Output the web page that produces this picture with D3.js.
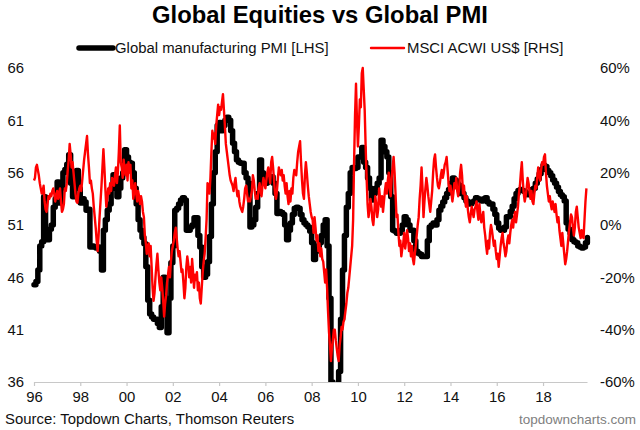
<!DOCTYPE html>
<html>
<head>
<meta charset="utf-8">
<script src="https://cdn.jsdelivr.net/npm/d3@7"></script>
<style>
  html, body { margin: 0; padding: 0; background: #fff; }
  text { font-family: "Liberation Sans", Arial, sans-serif; }
</style>
</head>
<body>
<svg id="chart" width="640" height="430"></svg>
<script>
const startYear = 1996;
const xTickYears = [1996, 1998, 2000, 2002, 2004, 2006, 2008, 2010, 2012, 2014, 2016, 2018];
const xTickLabels = ["96", "98", "00", "02", "04", "06", "08", "10", "12", "14", "16", "18"];
const leftTicks = [36, 41, 46, 51, 56, 61, 66];
const rightTicks = [-60, -40, -20, 0, 20, 40, 60];

// monthly, from Jan 96
const pmiValues = [
  45.3, 45.6, 46.7, 49.0, 49.4, 53.7, 50.0, 49.6, 50.6, 51.0, 52.7, 53.5,
  55.1, 53.1, 54.5, 56.0, 56.3, 56.8, 57.7, 55.0, 53.7, 55.5, 56.2, 54.5,
  53.1, 53.5, 53.2, 52.4, 52.5, 48.9, 49.0, 48.9, 48.8, 48.9, 48.5, 46.7,
  50.5, 51.5, 52.4, 53.0, 54.5, 55.8, 55.5, 53.7, 54.5, 55.5, 56.0, 58.2,
  57.5, 57.0, 56.9, 56.0, 54.5, 53.0, 51.5, 50.5, 49.8, 49.2, 47.0, 43.8,
  42.5, 42.2, 42.0, 42.0, 41.6, 41.2, 43.2, 46.0, 43.0, 40.7, 44.0, 47.4,
  49.0, 52.4, 52.6, 53.0, 53.4, 53.6, 53.4, 50.5, 50.5, 50.8, 51.0, 51.7,
  51.7, 50.0, 48.9, 47.0, 46.0, 46.3, 47.5, 49.9, 53.0, 56.0, 58.0, 60.5,
  60.8, 60.0, 60.5, 61.0, 61.3, 61.0, 60.0, 58.8, 58.0, 57.2, 57.0, 56.9,
  56.9, 56.0, 55.5, 55.0, 50.8, 51.0, 51.5, 52.7, 54.0, 57.2, 56.0, 55.5,
  55.0, 55.2, 55.4, 55.6, 55.0, 54.0, 52.1, 52.3, 52.2, 52.0, 51.0, 49.6,
  50.5, 51.2, 52.0, 52.6, 52.7, 52.6, 52.0, 51.5, 51.2, 51.0, 50.8, 50.4,
  49.3, 47.7, 48.5, 49.0, 49.3, 50.0, 51.0, 51.5, 49.0, 44.0, 36.0, 34.5,
  34.0, 35.0, 37.0, 42.0, 46.7, 50.0, 52.7, 54.0, 56.0, 56.5, 56.4, 56.5,
  57.5, 57.5, 58.4, 57.0, 56.5, 55.5, 54.5, 53.4, 54.0, 54.5, 55.0, 55.5,
  59.1, 58.5, 58.0, 57.5, 56.0, 53.7, 50.5, 50.4, 50.2, 50.2, 50.5, 51.0,
  51.8, 51.5, 51.0, 50.5, 50.5, 49.5, 48.5, 48.3, 48.2, 48.0, 48.0, 48.0,
  49.5, 50.8, 51.0, 51.2, 51.0, 51.5, 52.4, 52.8, 53.2, 53.6, 54.0, 54.4,
  55.0, 55.5, 55.3, 55.0, 54.8, 54.0, 54.0, 53.6, 53.3, 53.0, 53.0, 53.2,
  53.3, 53.6, 53.5, 53.4, 53.3, 53.5, 53.6, 53.2, 53.0, 53.0, 52.5, 52.0,
  51.2, 50.7, 50.5, 50.5, 50.8, 51.8, 51.8, 52.3, 52.8, 53.5, 54.0, 54.3,
  54.4, 54.3, 54.2, 54.0, 53.9, 54.0, 54.4, 54.5, 55.0, 55.4, 55.9, 56.3,
  56.7, 56.6, 56.2, 56.0, 55.7, 55.3, 55.0, 54.6, 54.2, 53.9, 53.7, 53.3,
  51.2, 50.6, 50.2, 49.6, 49.4, 49.3, 49.0, 48.9, 48.8, 48.9, 49.3, 49.8
];

// twice a month, from Jan 96, % y/y
const acwiValues = [
  17, 18, 22, 23, 21, 19, 16, 14, 12, 13, 15, 9, 6, 5, 8, 11, 10, 12, 11, 13, 14, 12, 9, 11,
  13, 10, 12, 14, 9, 5, 6, 8, 14, 13, 16, 21, 25, 31, 27, 22, 24, 20, 16, 12, 9, 8.5, 12, 14,
  15, 13, 17, 21, 25, 28, 31, 34, 27, 22, 16, 17, 14, 12, 7, 3, -1, -6, -10, -4, 3, 9, 15, 22,
  29, 22, 14, 7, 10, 14, 12, 16, 13, 18, 17, 15, 19, 22, 16, 20, 28, 38, 24, 22, 18, 25, 21, 19,
  23, 17, 24, 20, 23, 14, 17, 10, 13, 16, 12, 9, 13, 11, 8, 11, 9, 5, 3, -4, -7, -11, -8, -7,
  -12, -8, -16, -24, -29, -26, -20, -15, -11, -17, -22, -25, -20, -24, -29, -35, -30, -27, -22, -19, -16, -20, -14, -10,
  -8, -6, -3, -1, -5, -9, -12, -10, -14, -18, -17, -22, -28, -24, -16, -12, -15, -20, -16, -22, -13, -18, -24, -19,
  -21, -18, -25, -22, -28, -30, -24, -18, -14, -11, -5, 2, 16, 15, 12, 18, 28, 36, 33, 35, 31, 38, 42, 46,
  42, 45, 44, 47, 50, 44, 38, 31, 28, 25, 22, 19, 17, 16, 15, 13, 16, 18, 14, 11, 13, 9, 7, 6,
  5, 7, 10, 14, 15, 12, 9, 10, 9, 11, 13, 19, 17, 13, 10, 11, 10, 14, 16, 13, 11, 15, 18, 16,
  14, 17, 20, 22, 19, 16, 24, 26, 22, 17, 12, 10, 13, 18, 22, 20, 19, 21, 17, 19, 15, 12, 16, 11,
  8, 13, 9, 14, 12, 18, 21, 20, 19, 24, 28, 30, 32, 24, 17, 12, 10, 19, 24, 20, 15, 11, 8, 5,
  3, 2, -3, 3, -1, -6, -4, -10, -7, -12, -9, -13, -14, -18, -22, -17, -24, -33, -41, -46, -52, -47, -44, -40,
  -40, -44, -47, -50, -52, -46, -43, -39, -40, -37, -36, -33, -30, -26, -24, -20, -16, -12, -8, 2, 24, 42, 54, 40,
  30, 38, 48, 45, 58, 60, 52, 44, 30, 18, 8, 3, 6, 10, 7, 2, 0, 5, 11, 8, 3, 6, 14, 10,
  7, 11, 5, 9, 13, 16, 12, 17, 20, 14, 11, 18, 22, 26, 20, 12, 3, 4, -3, -8, -6, -12, -9, -7,
  -3, -9, -6, -2, -5, -10, -7, -12, -8, -13, -15, -11, -8, -4, 0, 3, 10, 15, 22, 14, 3, 9, 14, 18,
  15, 11, 8, 5, 9, 13, 20, 25, 27, 22, 18, 15, 14, 16, 19, 21, 18, 20, 23, 24, 26, 21, 16, 13,
  15, 12, 9, 12, 16, 14, 18, 13, 11, 14, 20, 23, 19, 12, 15, 10, 7, 11, 6, 3, 1, 4, 7, 5,
  3, 6, 7, 9, 5, 2, 8, 4, 1, 3, 5, -1, -4, -8, -11, -6, -9, -3, 0, -2, -5, -8, -6, -10,
  -13, -11, -16, -12, -8, -5, -3, -7, -9, -12, -10, -6, -4, -7, -3, 0, 2, -1, 3, 5, 1, 4, 7, 12,
  15, 20, 24, 17, 12, 9, 11, 14, 18, 16, 13, 10, 13, 9, 8, 12, 15, 14, 18, 22, 19, 17, 21, 24,
  23, 26, 27, 20, 15, 12, 9, 11, 8, 6, 9, 7, 5, 8, 4, 1, 3, -2, -5, -8, -3, -7, -11, -15,
  -13, -10, -6, -2, 1, 4, 3, -1, -4, -1, 5, 7, 3, -1, -3, -5, -2, -4, -5, 2, 9, 14
];

const svg = d3.select("#chart");

const x = d3.scaleLinear().domain([1996, 2019.9]).range([34, 587]);
const yLeft = d3.scaleLinear().domain([36, 66]).range([382, 68]);
const yRight = d3.scaleLinear().domain([-60, 60]).range([382, 68]);

svg.append("clipPath").attr("id", "plot")
  .append("rect")
  .attr("x", 0).attr("y", yLeft(66) - 10)
  .attr("width", 640).attr("height", yLeft(36) - yLeft(66) + 10);

svg.append("text")
  .attr("x", 320).attr("y", 23)
  .attr("text-anchor", "middle")
  .attr("font-size", 23.8).attr("font-weight", "bold")
  .attr("fill", "#000")
  .text("Global Equities vs Global PMI");

// legend
const legend = [
  { label: "Global manufacturing PMI [LHS]", color: "#000", width: 5.5, x1: 79, x2: 113, tx: 115 },
  { label: "MSCI ACWI US$ [RHS]", color: "#f00", width: 2.4, x1: 371, x2: 404, tx: 407 }
];
legend.forEach((d) => {
  svg.append("line")
    .attr("x1", d.x1).attr("x2", d.x2).attr("y1", 48).attr("y2", 48)
    .attr("stroke", d.color).attr("stroke-width", d.width)
    .attr("stroke-linecap", "round");
  svg.append("text")
    .attr("x", d.tx).attr("y", 53)
    .attr("font-size", 14.9).attr("fill", "#111")
    .text(d.label);
});

// x axis
const xAxis = svg.append("g")
  .attr("transform", `translate(0,${yLeft(36)})`)
  .call(d3.axisBottom(x)
    .tickValues(xTickYears)
    .tickFormat((d, i) => xTickLabels[i])
    .tickSize(4)
    .tickPadding(5)
    .tickSizeOuter(0));
xAxis.selectAll("line, path").attr("stroke", "#c8c8c8").attr("stroke-width", 1.2);
xAxis.selectAll("text").attr("font-size", 14.9).attr("fill", "#111")
  .attr("font-family", '"Liberation Sans", Arial, sans-serif');

// lines
const pmiLine = d3.line()
  .x((d, i) => x(startYear + i / 12))
  .y((d) => yLeft(d))
  .curve(d3.curveStepAfter);
const acwiLine = d3.line()
  .x((d, i) => x(startYear + i / 24))
  .y((d) => yRight(d));

const lines = svg.append("g").attr("clip-path", "url(#plot)");
lines.append("path")
  .datum(pmiValues)
  .attr("fill", "none")
  .attr("stroke", "#000").attr("stroke-width", 5.5)
  .attr("stroke-linejoin", "round").attr("stroke-linecap", "round")
  .attr("d", pmiLine);
lines.append("path")
  .datum(acwiValues)
  .attr("fill", "none")
  .attr("stroke", "#f00").attr("stroke-width", 2.4)
  .attr("stroke-linejoin", "round")
  .attr("d", acwiLine);

// y axes, labels only
const leftAxis = svg.append("g")
  .attr("transform", "translate(24,0)")
  .call(d3.axisLeft(yLeft).tickValues(leftTicks).tickSize(0).tickPadding(0).tickFormat(d3.format("d")));
const rightAxis = svg.append("g")
  .attr("transform", "translate(600,0)")
  .call(d3.axisRight(yRight).tickValues(rightTicks).tickSize(0).tickPadding(0).tickFormat((d) => d + "%"));
[leftAxis, rightAxis].forEach((a) => {
  a.select(".domain").remove();
  a.selectAll("text").attr("font-size", 14.9).attr("fill", "#111")
    .attr("font-family", '"Liberation Sans", Arial, sans-serif');
});

svg.append("text")
  .attr("x", 5).attr("y", 424)
  .attr("font-size", 14.9).attr("fill", "#111")
  .text("Source: Topdown Charts, Thomson Reuters");
svg.append("text")
  .attr("x", 636).attr("y", 424)
  .attr("text-anchor", "end")
  .attr("font-size", 13.5).attr("fill", "#808080")
  .text("topdowncharts.com");
</script>
</body>
</html>
